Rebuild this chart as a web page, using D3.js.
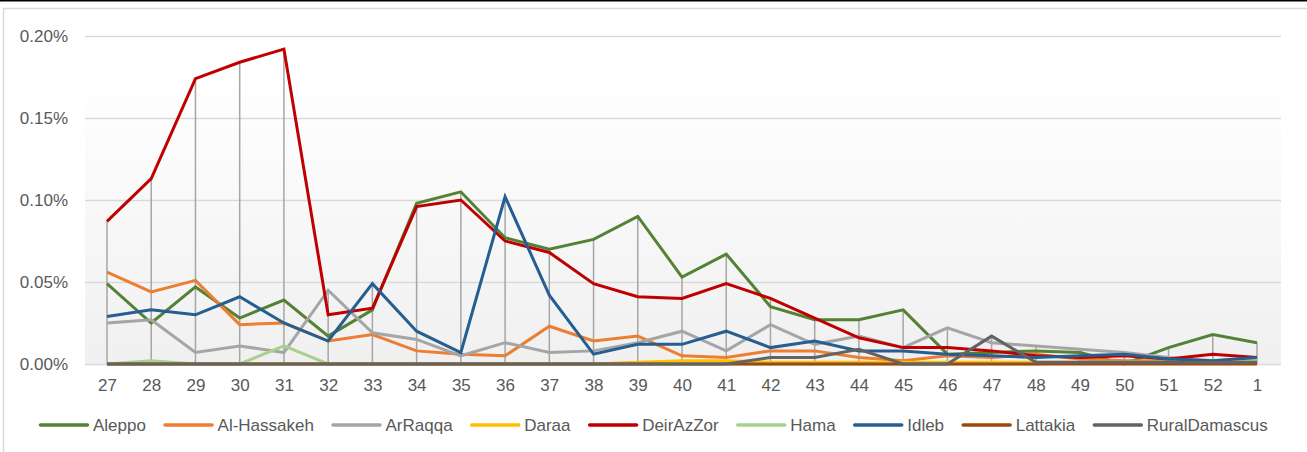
<!DOCTYPE html>
<html>
<head>
<meta charset="utf-8">
<script src="https://cdn.jsdelivr.net/npm/d3@7"></script>
<style>
  html, body { margin: 0; padding: 0; background: #ffffff; }
  svg { display: block; }
  text { font-family: "Liberation Sans", Arial, sans-serif; fill: #595959; }
</style>
</head>
<body>
<svg id="chart" width="1307" height="452"></svg>
<script>
const categories = ["27","28","29","30","31","32","33","34","35","36","37","38","39","40","41","42","43","44","45","46","47","48","49","50","51","52","1"];

// values in percent
const aleppo        = [0.049,0.025,0.047,0.028,0.039,0.017,0.033,0.098,0.105,0.077,0.070,0.076,0.090,0.053,0.067,0.035,0.027,0.027,0.033,0.006,0.007,0.008,0.007,0.000,0.010,0.018,0.013];
const alHassakeh    = [0.056,0.044,0.051,0.024,0.025,0.014,0.018,0.008,0.006,0.005,0.023,0.014,0.017,0.005,0.004,0.008,0.008,0.004,0.002,0.005,0.004,0.006,0.003,0.002,0.002,0.002,0.003];
const arRaqqa       = [0.025,0.027,0.007,0.011,0.007,0.045,0.019,0.015,0.005,0.013,0.007,0.008,0.013,0.020,0.008,0.024,0.012,0.017,0.010,0.022,0.013,0.011,0.009,0.007,0.004,0.002,0.003];
const daraa         = [0.000,0.000,0.000,0.000,0.000,0.000,0.000,0.000,0.000,0.000,0.000,0.000,0.001,0.002,0.002,0.001,0.001,0.001,0.001,0.001,0.001,0.001,0.001,0.001,0.001,0.002,0.001];
const deirAzZor     = [0.087,0.113,0.174,0.184,0.192,0.030,0.034,0.096,0.100,0.075,0.068,0.049,0.041,0.040,0.049,0.040,0.028,0.016,0.010,0.010,0.008,0.005,0.004,0.005,0.003,0.006,0.004];
const hama          = [0.000,0.002,0.000,0.000,0.011,0.000,0.000,0.000,0.000,0.000,0.000,0.000,0.000,0.000,0.000,0.000,0.000,0.000,0.000,0.000,0.000,0.000,0.001,0.001,0.001,0.002,0.003];
const idleb         = [0.029,0.033,0.030,0.041,0.025,0.014,0.049,0.020,0.007,0.102,0.042,0.006,0.012,0.012,0.020,0.010,0.014,0.008,0.008,0.006,0.005,0.004,0.005,0.006,0.003,0.002,0.004];
const lattakia      = [0,0,0,0,0,0,0,0,0,0,0,0,0,0,0,0,0,0,0,0,0,0,0,0,0,0,0];
const ruralDamascus = [0.000,0.000,0.000,0.000,0.000,0.000,0.000,0.000,0.000,0.000,0.000,0.000,0.000,0.000,0.000,0.004,0.004,0.009,0.000,0.000,0.017,0.001,0.001,0.001,0.001,0.001,0.001];

const seriesNames  = ["Aleppo","Al-Hassakeh","ArRaqqa","Daraa","DeirAzZor","Hama","Idleb","Lattakia","RuralDamascus"];
const seriesValues = [aleppo, alHassakeh, arRaqqa, daraa, deirAzZor, hama, idleb, lattakia, ruralDamascus];
const seriesColors = ["#548235","#ed7d31","#a5a5a5","#ffc000","#c00000","#a9d18e","#255e91","#9e480e","#636363"];
const yTicks = [0, 0.05, 0.10, 0.15, 0.20];

const svg = d3.select("#chart");
const W = 1307, H = 452;
const plot = {left: 85, right: 1281, top: 36, bottom: 364};
const FONT = "'Liberation Sans', Arial, sans-serif";

// top black line and chart border
svg.append("line").attr("x1",0).attr("x2",W).attr("y1",0.75).attr("y2",0.75)
  .attr("stroke","#000").attr("stroke-width",1.5);
svg.append("path").attr("d",`M3.5,${H} L3.5,8.5 L${W},8.5`)
  .attr("fill","none").attr("stroke","#d9d9d9").attr("stroke-width",1.5);

// gradient plot background
const defs = svg.append("defs");
const grad = defs.append("linearGradient").attr("id","bg").attr("x1",0).attr("x2",0).attr("y1",0).attr("y2",1);
grad.append("stop").attr("offset","0%").attr("stop-color","#ffffff");
grad.append("stop").attr("offset","12%").attr("stop-color","#ffffff");
grad.append("stop").attr("offset","100%").attr("stop-color","#f0f0f0");
svg.append("rect").attr("x",plot.left).attr("y",plot.top).attr("width",plot.right-plot.left)
  .attr("height",plot.bottom-plot.top).attr("fill","url(#bg)");

const x = d3.scalePoint().domain(categories).range([107, 1257]);
const y = d3.scaleLinear().domain([0, 0.2]).range([plot.bottom, plot.top]);

// gridlines
svg.append("g").selectAll("line").data(yTicks).join("line")
  .attr("x1",plot.left).attr("x2",plot.right)
  .attr("y1",d=>Math.round(y(d))+0.5).attr("y2",d=>Math.round(y(d))+0.5)
  .attr("stroke","#d9d9d9").attr("stroke-width",1.3);

// y axis labels
const yAxis = d3.axisLeft(y).tickValues(yTicks).tickSize(0).tickPadding(0)
  .tickFormat(d => d.toFixed(2) + "%");
const yg = svg.append("g").attr("transform","translate(68,0)").call(yAxis);
yg.select(".domain").remove();
yg.selectAll("text").attr("font-size","17px").attr("fill","#595959").attr("font-family",FONT);

// x axis labels
const xAxis = d3.axisBottom(x).tickSize(0).tickPadding(0);
const xg = svg.append("g").attr("transform","translate(0,379)").call(xAxis);
xg.select(".domain").remove();
xg.selectAll("text").attr("font-size","17px").attr("fill","#595959").attr("font-family",FONT);

// high-low drop lines
const maxVals = categories.map((c,i) => d3.max(seriesValues, s => s[i]));
svg.append("g").selectAll("line").data(categories).join("line")
  .attr("x1",d=>x(d)).attr("x2",d=>x(d))
  .attr("y1",(d,i)=>y(maxVals[i])).attr("y2",y(0))
  .attr("stroke","#a6a6a6").attr("stroke-width",1.5);

// series lines
const line = d3.line().x((d,i)=>x(categories[i])).y(d=>y(d));
svg.append("g").selectAll("path").data(seriesValues).join("path")
  .attr("d", d => line(d))
  .attr("fill","none")
  .attr("stroke",(d,i)=>seriesColors[i])
  .attr("stroke-width",3)
  .attr("stroke-linejoin","miter");

// legend
const lg = svg.append("g");
let cx = 39;
seriesNames.forEach((name,i) => {
  const g = lg.append("g").attr("transform",`translate(${cx},425)`);
  g.append("line").attr("x1",1.5).attr("x2",48.5).attr("y1",0).attr("y2",0)
    .attr("stroke",seriesColors[i]).attr("stroke-width",3.5).attr("stroke-linecap","round");
  const t = g.append("text").attr("x",54).attr("y",0).attr("dy","0.35em")
    .attr("font-size","17px").attr("fill","#595959").attr("font-family",FONT)
    .text(name);
  cx += 54 + t.node().getComputedTextLength() + 17.6;
});
</script>
</body>
</html>
